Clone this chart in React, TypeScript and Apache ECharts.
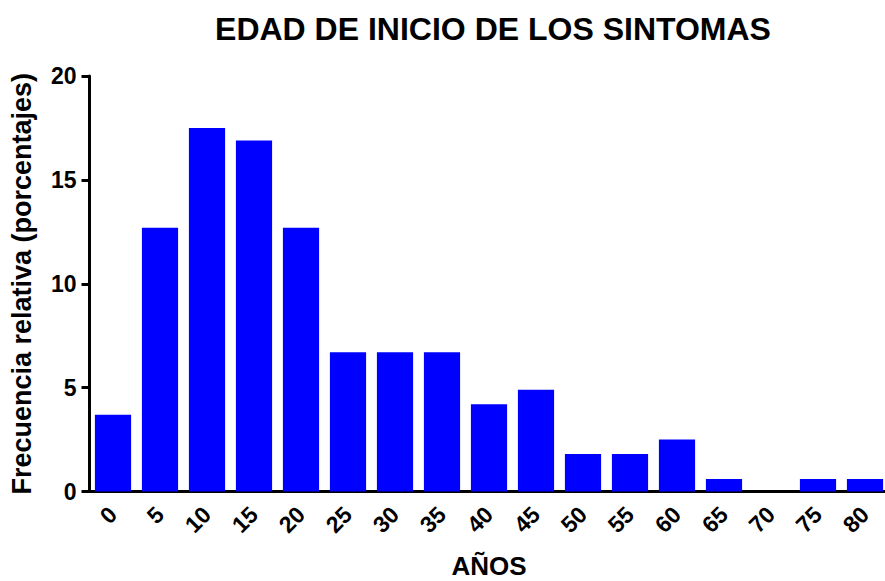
import React, { useEffect, useRef } from "react";
import * as echarts from "echarts";

const categories = ["0", "5", "10", "15", "20", "25", "30", "35", "40", "45", "50", "55", "60", "65", "70", "75", "80"];
const values = [3.7, 12.7, 17.5, 16.9, 12.7, 6.7, 6.7, 6.7, 4.2, 4.9, 1.8, 1.8, 2.5, 0.6, 0, 0.6, 0.6];
const yTicks = [0, 5, 10, 15, 20];

const FONT = "'Liberation Sans', Arial, sans-serif";

export default function App() {
  const ref = useRef<HTMLDivElement>(null);
  useEffect(() => {
    document.body.style.margin = "0";
    document.body.style.overflow = "hidden";
    if (!ref.current) return;
    const chart = echarts.init(ref.current, null, { renderer: "svg" });
    chart.setOption({
      animation: false,
      backgroundColor: "#ffffff",
      textStyle: { fontFamily: FONT },
      title: {
        text: "EDAD DE INICIO DE LOS SINTOMAS",
        left: 488,
        top: 8,
        textAlign: "center",
        textStyle: { fontFamily: FONT, fontSize: 32, fontWeight: "bold", color: "#000" },
      },
      grid: {
        left: 89.5,
        top: 76,
        width: 799,
        height: 415.5,
        containLabel: false,
        outerBoundsMode: "none",
      },
      xAxis: {
        type: "category",
        data: categories,
        name: "AÑOS",
        nameLocation: "middle",
        nameGap: 61,
        nameTextStyle: { fontFamily: FONT, fontSize: 26, fontWeight: "bold", color: "#000", lineHeight: 26 },
        axisLine: { lineStyle: { color: "#000", width: 3 } },
        axisTick: { alignWithLabel: true, length: 8, lineStyle: { color: "#000", width: 3 } },
        axisLabel: {
          rotate: 45,
          interval: 0,
          margin: 19,
          fontFamily: FONT,
          fontSize: 23,
          fontWeight: "bold",
          color: "#000",
        },
      },
      yAxis: {
        type: "value",
        min: yTicks[0],
        max: yTicks[yTicks.length - 1],
        interval: 5,
        name: "Frecuencia relativa (porcentajes)",
        nameLocation: "middle",
        nameGap: 54,
        nameTextStyle: { fontFamily: FONT, fontSize: 27, fontWeight: "bold", color: "#000" },
        axisLine: { show: true, lineStyle: { color: "#000", width: 3 } },
        axisTick: { show: true, length: 8, lineStyle: { color: "#000", width: 3 } },
        axisLabel: { margin: 13, fontFamily: FONT, fontSize: 23, fontWeight: "bold", color: "#000" },
        splitLine: { show: false },
      },
      series: [
        {
          type: "bar",
          data: values,
          barCategoryGap: "23%",
          itemStyle: { color: "#0000ff" },
        },
      ],
    });
    return () => chart.dispose();
  }, []);
  return (
    <div
      ref={ref}
      style={{ position: "absolute", left: 0, top: 0, width: 885, height: 581, overflow: "hidden" }}
    />
  );
}
